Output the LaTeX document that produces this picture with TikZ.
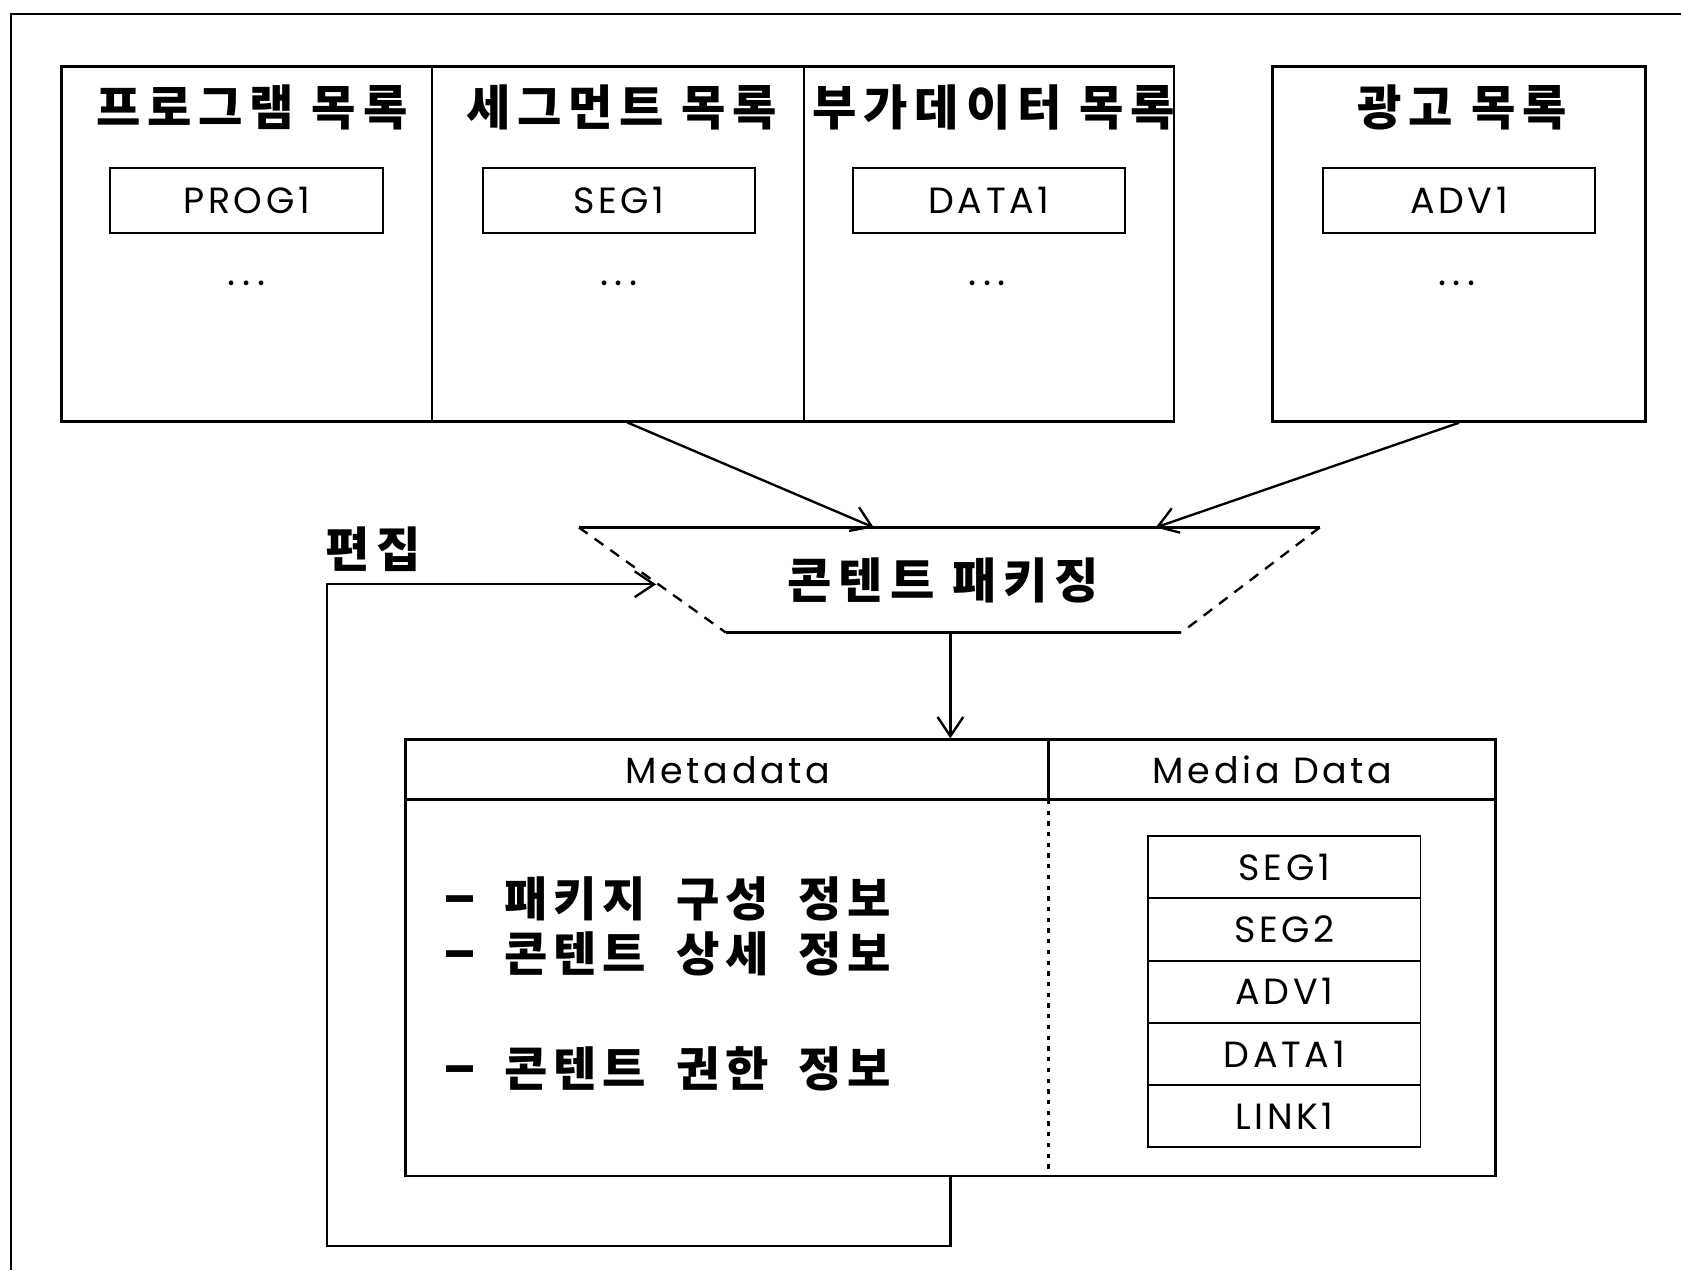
\documentclass[tikz,border=0pt]{standalone}
\usepackage{fontspec}
\setmainfont{Poppins}
\newfontfamily\kr{Noto Sans CJK KR}[LetterSpace=14]
\newfontfamily\krl{Noto Sans CJK KR}[LetterSpace=12]
\newfontfamily\lat{Poppins}[LetterSpace=10]
\newcommand{\wsp}{\hspace{14pt}}
\newcommand{\ldash}{{\fontsize{28}{28}\selectfont –}\hspace{13pt}}
\usetikzlibrary{arrows.meta}
\begin{document}
\begin{tikzpicture}[x=0.5pt,y=-0.5pt,line width=1.1pt,
  lst/.style={draw,line width=1.3pt,minimum width=173pt,minimum height=165.5pt,inner sep=0},
  item/.style={draw,line width=0.9pt,minimum width=127pt,minimum height=30pt,inner sep=0,font=\lat\fontsize{17}{20}\selectfont},
  ttl/.style={font=\kr\bfseries\fontsize{22.5}{24}\selectfont,inner sep=0},
  lbl/.style={font=\krl\bfseries\fontsize{22}{24}\selectfont,inner sep=0,anchor=west},
  hdr/.style={font=\lat\fontsize{17}{20}\selectfont,inner sep=0},
  dotsn/.style={font=\fontsize{18}{20}\selectfont,inner sep=0},
  arr/.style={-{Straight Barb[length=9pt,width=12pt,line width=1.1pt]},line width=1.1pt},
  sidedash/.style={line width=1.1pt,dash pattern=on 5pt off 4pt}]
\useasboundingbox (0,0) rectangle (1568,1185);

% outer frame (top and left only)
\draw[line width=1pt] (10,1185) -- (10,13) -- (1568,13);

% top list boxes
\node[lst] (b1) at (230,227.5) {};
\node[lst,minimum width=173.5pt] (b2) at (576.5,227.5) {};
\node[lst,minimum width=172.5pt] (b3) at (922.5,227.5) {};
\node[lst,minimum width=174pt] (b4) at (1361,227.5) {};

\node[ttl] (t1) at (235,100) {프로그램 목록};
\node[ttl] (t2) at (580,100) {세그먼트 목록};
\node[ttl] (t3) at (927,100) {부가데이터 목록};
\node[ttl] (t4) at (1364,100) {광고 목록};

\node[item] (i1) at (230,187) {PROG1};
\node[item] (i2) at (577.5,187) {SEG1};
\node[item] (i3) at (922.5,187) {DATA1};
\node[item] (i4) at (1361,187) {ADV1};

\node[dotsn] (d1) at (230,264) {.\,.\,.};
\node[dotsn] (d2) at (577,264) {.\,.\,.};
\node[dotsn] (d3) at (921,264) {.\,.\,.};
\node[dotsn] (d4) at (1359,264) {.\,.\,.};

% packaging trapezoid
\coordinate (tl) at (540,492);
\coordinate (tr) at (1231,492);
\coordinate (br) at (1102,590);
\coordinate (bl) at (677,590);
\draw[line width=1.2pt] (tl) -- (tr);
\draw[line width=1.2pt] (bl) -- (br);
\draw[sidedash] (tl) -- (bl);
\draw[sidedash] (tr) -- (br);
\node[ttl] (pk) at (880,541) {콘텐트 패키징};

% arrows into packaging
\coordinate (g1) at (585,394);
\coordinate (a1) at (815,492);
\coordinate (a2) at (1078,492);
\draw[arr] (g1) -- (a1);
\draw[arr] (b4.south) -- (a2);

% main package box
\node[draw,line width=1.3pt,minimum width=508.5pt,minimum height=203.5pt,inner sep=0] (main) at (886.5,893.5) {};
\coordinate (hl) at (0,746);
\coordinate (dv) at (978,0);
\draw[line width=1.2pt] (main.west |- hl) -- (main.east |- hl);
\draw[line width=1pt] (main.north -| dv) -- (hl -| dv);
\draw[line width=1pt,dash pattern=on 2pt off 3pt] (hl -| dv) -- (main.south -| dv);
\node[hdr] (mh) at (679,718) {Metadata};
\node[hdr] (dh) at (1187,718) {Media Data};

% down arrow
\coordinate (pb) at (886.5,590);
\draw[arr] (pb) -- (main.north);

% metadata list
\node[lbl] (l1) at (413,838) {\ldash 패키지\wsp 구성\wsp 정보};
\node[lbl] (l2) at (413,890) {\ldash 콘텐트\wsp 상세\wsp 정보};
\node[lbl] (l3) at (413,997) {\ldash 콘텐트\wsp 권한\wsp 정보};

% media data stack
\node[item,minimum height=29pt] (m1) at (1198,809) {SEG1};
\node[item,minimum height=29pt] (m2) at (1198,867) {SEG2};
\node[item,minimum height=29pt] (m3) at (1198,925) {ADV1};
\node[item,minimum height=29pt] (m4) at (1198,983) {DATA1};
\node[item,minimum height=29pt] (m5) at (1198,1041) {LINK1};

% feedback (edit) loop
\coordinate (lb) at (305,1162);
\coordinate (lt) at (305,545);
\coordinate (tip) at (612,545);
\draw[arr] (main.south) |- (lb) -- (lt) -- (tip);
\node[ttl] (ed) at (348,512) {편집};
\end{tikzpicture}
\end{document}
